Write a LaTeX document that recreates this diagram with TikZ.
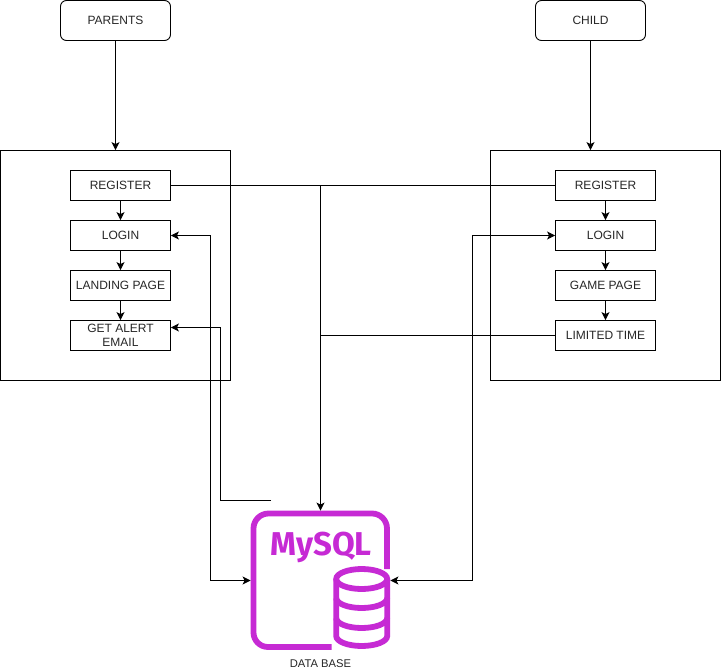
\documentclass[tikz,border=0pt]{standalone}
\usepackage{fontspec}
\setmainfont{Liberation Sans}
\newfontfamily\logofont{Fira Sans}
\usetikzlibrary{arrows.meta}
\definecolor{dbpurple}{HTML}{C62AD4}
\tikzset{
  x=1pt,y=-1pt,
  every node/.style={font=\fontsize{12}{14}\selectfont,text=black!85,inner sep=0pt},
  link/.style={line width=0.9pt,draw=black},
  tip/.style={-{Stealth[length=8pt,width=8pt,inset=2pt]}},
  bothtip/.style={{Stealth[length=8pt,width=8pt,inset=2pt]}-{Stealth[length=8pt,width=8pt,inset=2pt]}},
  actor/.style={draw=black,line width=0.9pt,rounded corners=6pt,minimum width=110pt,minimum height=40pt},
  panel/.style={draw=black,line width=0.9pt,minimum width=230pt,minimum height=230pt},
  stage/.style={draw=black,line width=0.9pt,minimum width=100pt,minimum height=30pt,align=center},
  icon/.style={draw=dbpurple,line width=5.8pt,line cap=butt},
}
\begin{document}
\begin{tikzpicture}
\useasboundingbox (0,0) rectangle (721,672);

\node[actor] (parents) at (115.5,20.5) {PARENTS};
\node[actor] (child) at (590.5,20.5) {CHILD};
\node[panel] (lpanel) at (115.5,265.5) {};
\node[panel] (rpanel) at (605.5,265.5) {};

\node[stage] (lreg) at (120.5,185.5) {REGISTER};
\node[stage] (llog) at (120.5,235.5) {LOGIN};
\node[stage] (lland) at (120.5,285.5) {LANDING PAGE};
\node[stage] (lalert) at (120.5,335.5) {GET ALERT\\EMAIL};
\node[stage] (rreg) at (605.5,185.5) {REGISTER};
\node[stage] (rlog) at (605.5,235.5) {LOGIN};
\node[stage] (rgame) at (605.5,285.5) {GAME PAGE};
\node[stage] (rlim) at (605.5,335.5) {LIMITED TIME};

% database icon
\node[minimum width=139.5pt,minimum height=139.5pt] (db) at (320.5,580.5) {};
\draw[icon] (331.6,647) -- (268,647) arc[start angle=90,end angle=180,radius=14.5]
  -- (253.5,528.5) arc[start angle=180,end angle=270,radius=15]
  -- (372,513.5) arc[start angle=270,end angle=360,radius=15] -- (387,569);
\draw[icon] (361.7,579) ellipse[x radius=25.5,y radius=10];
\draw[icon] (336.2,579) -- (336.2,636) arc[start angle=180,end angle=0,x radius=25.5,y radius=10] -- (387.2,579);
\draw[icon] (336.2,598) arc[start angle=180,end angle=0,x radius=25.5,y radius=10];
\draw[icon] (336.2,618) arc[start angle=180,end angle=0,x radius=25.5,y radius=10];
\node[text=dbpurple,font=\logofont\bfseries\fontsize{33}{33}\selectfont,anchor=base west] (logo) at (270,555.5) {MySQL};
\node[font=\fontsize{11.2}{13}\selectfont] (dblabel) at (320.5,663.5) {DATA BASE};

\coordinate (alertend) at (271,500.5);

% connectors
\draw[link,tip] (parents.south) -- (parents.south |- lpanel.north);
\draw[link,tip] (child.south) -- (child.south |- rpanel.north);
\draw[link,tip] (lreg) -- (llog);
\draw[link,tip] (llog) -- (lland);
\draw[link,tip] (lland) -- (lalert);
\draw[link,tip] (rreg) -- (rlog);
\draw[link,tip] (rlog) -- (rgame);
\draw[link,tip] (rgame) -- (rlim);
\draw[link] (lreg.east) -- (rreg.west);
\draw[link,tip] (db.north |- lreg.east) -- (db.north);
\draw[link] (rlim.west) -- (db.north |- rlim.west);
\draw[link,bothtip] (llog.east) -- (210.5,235.5) -- (210.5,580.5) -- (db.west);
\draw[link,tip] (alertend) -- (220.5,500.5) -- (220.5,327.5) -- (lalert.east |- 0,327.5);
\draw[link,bothtip] (rlog.west) -- (472.5,235.5) -- (472.5,580.5) -- (db.east);
\end{tikzpicture}
\end{document}
